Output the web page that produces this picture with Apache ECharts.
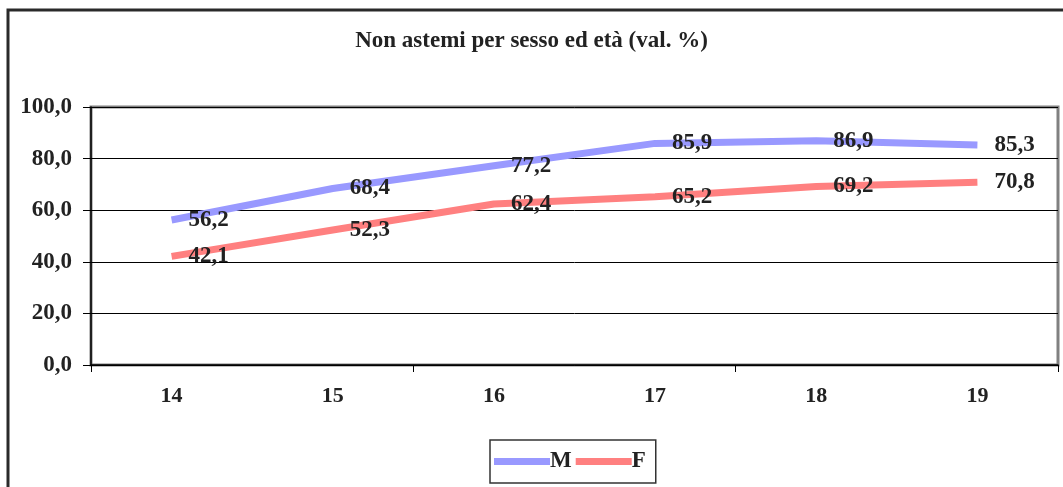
<!DOCTYPE html>
<html>
<head>
<meta charset="utf-8">
<script src="https://cdn.jsdelivr.net/npm/echarts@6/dist/echarts.min.js"></script>
<style>
  html, body { margin: 0; padding: 0; background: #fff; }
  #chart { width: 1063px; height: 487px; }
</style>
</head>
<body>
<div id="chart"></div>
<script>
// dati
var eta = ['14', '15', '16', '17', '18', '19'];
var maschi = [56.2, 68.4, 77.2, 85.9, 86.9, 85.3];
var femmine = [42.1, 52.3, 62.4, 65.2, 69.2, 70.8];
var titolo = 'Non astemi per sesso ed età (val. %)';

var font = '"Liberation Serif", "DejaVu Serif", serif';
var virgola = function (v) { return Number(v).toFixed(1).replace('.', ','); };

var labelStyle = {
  show: true,
  position: 'right',
  distance: 17,
  color: '#222',
  fontFamily: font,
  fontWeight: 'bold',
  fontSize: 23,
  formatter: function (p) { return virgola(p.value); }
};

var chart = echarts.init(document.getElementById('chart'));
chart.setOption({
  animation: false,
  title: {
    text: titolo,
    left: 'center',
    top: 25,
    textStyle: { fontFamily: font, fontWeight: 'bold', fontSize: 23, color: '#222' }
  },
  graphic: [{
    type: 'rect',
    shape: { x: 8, y: 10, width: 1200, height: 600 },
    style: { fill: 'none', stroke: '#2a2a2a', lineWidth: 3 },
    silent: true
  }],
  legend: {
    left: 490,
    top: 440,
    padding: [10, 10, 10, 4],
    borderColor: '#333',
    borderWidth: 1.5,
    itemGap: 4,
    itemWidth: 56,
    itemHeight: 7,
    icon: 'rect',
    textStyle: { fontFamily: font, fontWeight: 'bold', fontSize: 23, color: '#222', padding: [0, 0, 0, -5] },
    data: ['M', 'F']
  },
  grid: {
    left: 91, right: 5, top: 107, bottom: 122,
    show: true,
    borderColor: '#808080',
    borderWidth: 3
  },
  xAxis: {
    type: 'category',
    data: eta,
    boundaryGap: true,
    axisLine: { lineStyle: { color: '#000', width: 1.5 } },
    axisTick: { show: true, interval: 1, length: 7, lineStyle: { color: '#000' } },
    axisLabel: { margin: 20, fontFamily: font, fontWeight: 'bold', fontSize: 22, color: '#222' }
  },
  yAxis: {
    type: 'value',
    min: 0,
    max: 100,
    interval: 20,
    axisLine: { show: true, lineStyle: { color: '#000', width: 1.5 } },
    axisTick: { show: true, length: 8, lineStyle: { color: '#000' } },
    splitLine: { lineStyle: { color: '#000', width: 1 } },
    axisLabel: { margin: 19, fontFamily: font, fontWeight: 'bold', fontSize: 23, color: '#222', formatter: virgola }
  },
  series: [
    {
      name: 'M', type: 'line', data: maschi,
      showSymbol: true, symbol: 'circle', symbolSize: 0,
      lineStyle: { color: '#9999ff', width: 7 },
      itemStyle: { color: '#9999ff' },
      label: labelStyle
    },
    {
      name: 'F', type: 'line', data: femmine,
      showSymbol: true, symbol: 'circle', symbolSize: 0,
      lineStyle: { color: '#ff8080', width: 7 },
      itemStyle: { color: '#ff8080' },
      label: labelStyle
    }
  ]
});
</script>
</body>
</html>
